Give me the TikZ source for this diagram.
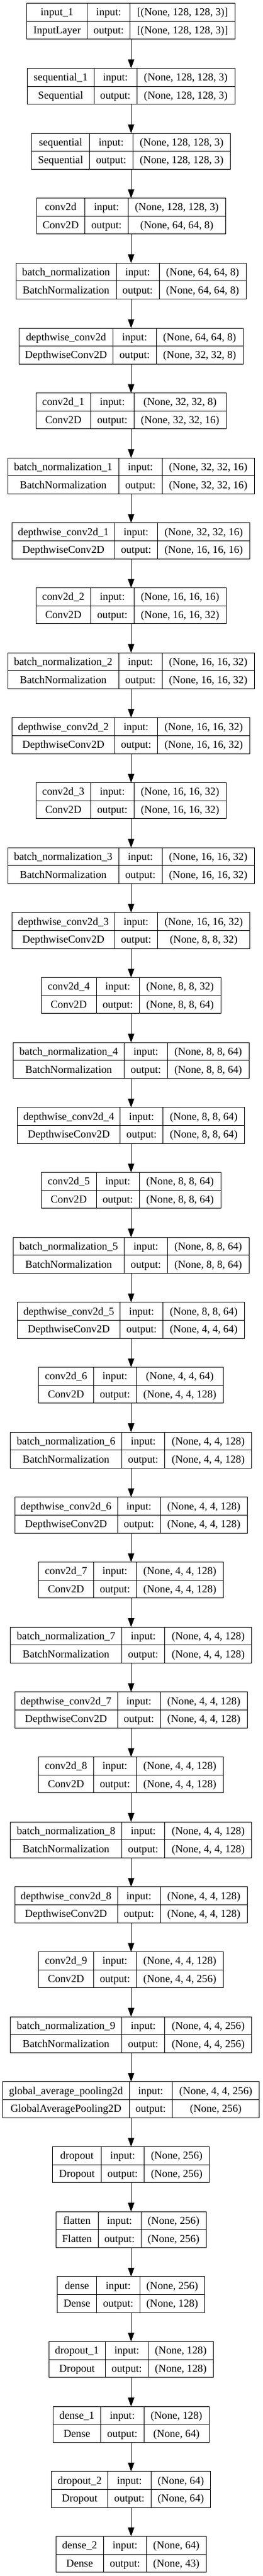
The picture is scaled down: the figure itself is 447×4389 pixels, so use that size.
\documentclass[tikz,border=0pt]{standalone}
\usepackage{fontspec}
\setmainfont{Liberation Serif}
\usetikzlibrary{arrows.meta}
\tikzset{
  lbox/.style={draw=black, line width=1pt, inner sep=0pt, outer sep=0pt, anchor=north west, minimum height=61.3pt},
  cellline/.style={draw=black, line width=1pt},
  txt/.style={inner sep=0pt, anchor=base, font=\fontsize{18.2}{20}\selectfont},
  arr/.style={draw=black, line width=1pt, -{Triangle[length=15pt,width=10.7pt]}}
}
% \klayer{index}{x0}{c1}{c2}{x1}{name}{class}, then \kio{input shape}{output shape}
\newcommand\klayer[7]{%
  \pgfmathsetmacro\yt{5.7+#1*110.66}%
  \pgfmathsetmacro\yb{\yt+61.3}%
  \pgfmathsetmacro\ym{\yt+30.65}%
  \def\ki{#1}\def\kc{#4}\def\kx{#5}%
  \node[lbox, minimum width={(#5-#2)*1pt}] (L#1) at (#2,\yt) {};
  \draw[cellline] (#3,\yt) -- (#3,\yb);
  \draw[cellline] (#4,\yt) -- (#4,\yb);
  \draw[cellline] (L#1.west) -- (L#1.east);
  \node[txt] (L#1a) at ({(#2+#3)/2},{\yt+21.2}) {#6};
  \node[txt] (L#1b) at ({(#2+#3)/2},{\ym+21.2}) {#7};
  \node[txt] (L#1c) at ({(#3+#4)/2},{\yt+21.2}) {input:};
  \node[txt] (L#1d) at ({(#3+#4)/2},{\ym+21.2}) {output:};
}
\newcommand\kio[2]{%
  \node[txt] (L\ki e) at ({(\kc+\kx)/2},{\yt+21.2}) {#1};
  \node[txt] (L\ki f) at ({(\kc+\kx)/2},{\ym+21.2}) {#2};
}
\begin{document}
\begin{tikzpicture}[x=1pt,y=-1pt]
\fill[white] (0,0) rectangle (447,4389);
\useasboundingbox (0,0) rectangle (447,4389);
\coordinate (axis) at (223.3,0);

\klayer{0}{45.7}{148.7}{221.7}{400.3}{input\_1}{InputLayer}\kio{[(None, 128, 128, 3)]}{[(None, 128, 128, 3)]}
\klayer{1}{46.7}{160}{233}{400}{sequential\_1}{Sequential}\kio{(None, 128, 128, 3)}{(None, 128, 128, 3)}
\klayer{2}{53.7}{152.7}{226}{392.7}{sequential}{Sequential}\kio{(None, 128, 128, 3)}{(None, 128, 128, 3)}
\klayer{3}{62}{144.7}{218}{384.3}{conv2d}{Conv2D}\kio{(None, 128, 128, 3)}{(None, 64, 64, 8)}
\klayer{4}{27}{198}{271}{419}{batch\_normalization}{BatchNormalization}\kio{(None, 64, 64, 8)}{(None, 64, 64, 8)}
\klayer{5}{32.3}{192.7}{266}{414}{depthwise\_conv2d}{DepthwiseConv2D}\kio{(None, 64, 64, 8)}{(None, 32, 32, 8)}
\klayer{6}{61}{154.7}{228}{385.3}{conv2d\_1}{Conv2D}\kio{(None, 32, 32, 8)}{(None, 32, 32, 16)}
\klayer{7}{13}{202.3}{276}{433.3}{batch\_normalization\_1}{BatchNormalization}\kio{(None, 32, 32, 16)}{(None, 32, 32, 16)}
\klayer{8}{20.7}{195.3}{268.3}{425.7}{depthwise\_conv2d\_1}{DepthwiseConv2D}\kio{(None, 32, 32, 16)}{(None, 16, 16, 16)}
\klayer{9}{61}{154.7}{228}{385.3}{conv2d\_2}{Conv2D}\kio{(None, 16, 16, 16)}{(None, 16, 16, 32)}
\klayer{10}{13}{202.3}{276}{433.3}{batch\_normalization\_2}{BatchNormalization}\kio{(None, 16, 16, 32)}{(None, 16, 16, 32)}
\klayer{11}{20.7}{195.3}{268.3}{425.7}{depthwise\_conv2d\_2}{DepthwiseConv2D}\kio{(None, 16, 16, 32)}{(None, 16, 16, 32)}
\klayer{12}{61}{154.7}{228}{385.3}{conv2d\_3}{Conv2D}\kio{(None, 16, 16, 32)}{(None, 16, 16, 32)}
\klayer{13}{13}{202.3}{276}{433.3}{batch\_normalization\_3}{BatchNormalization}\kio{(None, 16, 16, 32)}{(None, 16, 16, 32)}
\klayer{14}{20.7}{195.3}{268.3}{425.7}{depthwise\_conv2d\_3}{DepthwiseConv2D}\kio{(None, 16, 16, 32)}{(None, 8, 8, 32)}
\klayer{15}{70.3}{164}{237.3}{376}{conv2d\_4}{Conv2D}\kio{(None, 8, 8, 32)}{(None, 8, 8, 64)}
\klayer{16}{22.3}{211.7}{285.3}{424}{batch\_normalization\_4}{BatchNormalization}\kio{(None, 8, 8, 64)}{(None, 8, 8, 64)}
\klayer{17}{29.7}{204.7}{277.7}{416.3}{depthwise\_conv2d\_4}{DepthwiseConv2D}\kio{(None, 8, 8, 64)}{(None, 8, 8, 64)}
\klayer{18}{70.3}{164}{237.3}{376}{conv2d\_5}{Conv2D}\kio{(None, 8, 8, 64)}{(None, 8, 8, 64)}
\klayer{19}{22.3}{211.7}{285.3}{424}{batch\_normalization\_5}{BatchNormalization}\kio{(None, 8, 8, 64)}{(None, 8, 8, 64)}
\klayer{20}{29.7}{204.7}{277.7}{416.3}{depthwise\_conv2d\_5}{DepthwiseConv2D}\kio{(None, 8, 8, 64)}{(None, 4, 4, 64)}
\klayer{21}{65.7}{159.3}{232.3}{380.3}{conv2d\_6}{Conv2D}\kio{(None, 4, 4, 64)}{(None, 4, 4, 128)}
\klayer{22}{17.7}{207.3}{280.7}{428.7}{batch\_normalization\_6}{BatchNormalization}\kio{(None, 4, 4, 128)}{(None, 4, 4, 128)}
\klayer{23}{25}{200}{273.3}{421}{depthwise\_conv2d\_6}{DepthwiseConv2D}\kio{(None, 4, 4, 128)}{(None, 4, 4, 128)}
\klayer{24}{65.7}{159.3}{232.3}{380.3}{conv2d\_7}{Conv2D}\kio{(None, 4, 4, 128)}{(None, 4, 4, 128)}
\klayer{25}{17.7}{207.3}{280.7}{428.7}{batch\_normalization\_7}{BatchNormalization}\kio{(None, 4, 4, 128)}{(None, 4, 4, 128)}
\klayer{26}{25}{200}{273.3}{421}{depthwise\_conv2d\_7}{DepthwiseConv2D}\kio{(None, 4, 4, 128)}{(None, 4, 4, 128)}
\klayer{27}{65.7}{159.3}{232.3}{380.3}{conv2d\_8}{Conv2D}\kio{(None, 4, 4, 128)}{(None, 4, 4, 128)}
\klayer{28}{17.7}{207.3}{280.7}{428.7}{batch\_normalization\_8}{BatchNormalization}\kio{(None, 4, 4, 128)}{(None, 4, 4, 128)}
\klayer{29}{25}{200}{273.3}{421}{depthwise\_conv2d\_8}{DepthwiseConv2D}\kio{(None, 4, 4, 128)}{(None, 4, 4, 128)}
\klayer{30}{65.7}{159.3}{232.3}{380.3}{conv2d\_9}{Conv2D}\kio{(None, 4, 4, 128)}{(None, 4, 4, 256)}
\klayer{31}{17.7}{207.3}{280.7}{428.7}{batch\_normalization\_9}{BatchNormalization}\kio{(None, 4, 4, 256)}{(None, 4, 4, 256)}
\klayer{32}{4.7}{220}{293.3}{441.7}{global\_average\_pooling2d}{GlobalAveragePooling2D}\kio{(None, 4, 4, 256)}{(None, 256)}
\klayer{33}{89.7}{172.3}{245.7}{356.3}{dropout}{Dropout}\kio{(None, 256)}{(None, 256)}
\klayer{34}{95.3}{167}{240.3}{351}{flatten}{Flatten}\kio{(None, 256)}{(None, 256)}
\klayer{35}{97.3}{164.7}{238}{348.7}{dense}{Dense}\kio{(None, 256)}{(None, 128)}
\klayer{36}{83}{179.3}{252.7}{363}{dropout\_1}{Dropout}\kio{(None, 128)}{(None, 128)}
\klayer{37}{90.3}{171.7}{245}{356}{dense\_1}{Dense}\kio{(None, 128)}{(None, 64)}
\klayer{38}{87.7}{183.7}{257.3}{358.7}{dropout\_2}{Dropout}\kio{(None, 64)}{(None, 64)}
\klayer{39}{95}{176.3}{249.7}{351}{dense\_2}{Dense}\kio{(None, 64)}{(None, 43)}

\foreach \i in {0,...,38}{%
  \pgfmathtruncatemacro\j{\i+1}%
  \draw[arr] (L\i.south -| axis) -- (L\j.north -| axis);
}
\end{tikzpicture}
\end{document}
